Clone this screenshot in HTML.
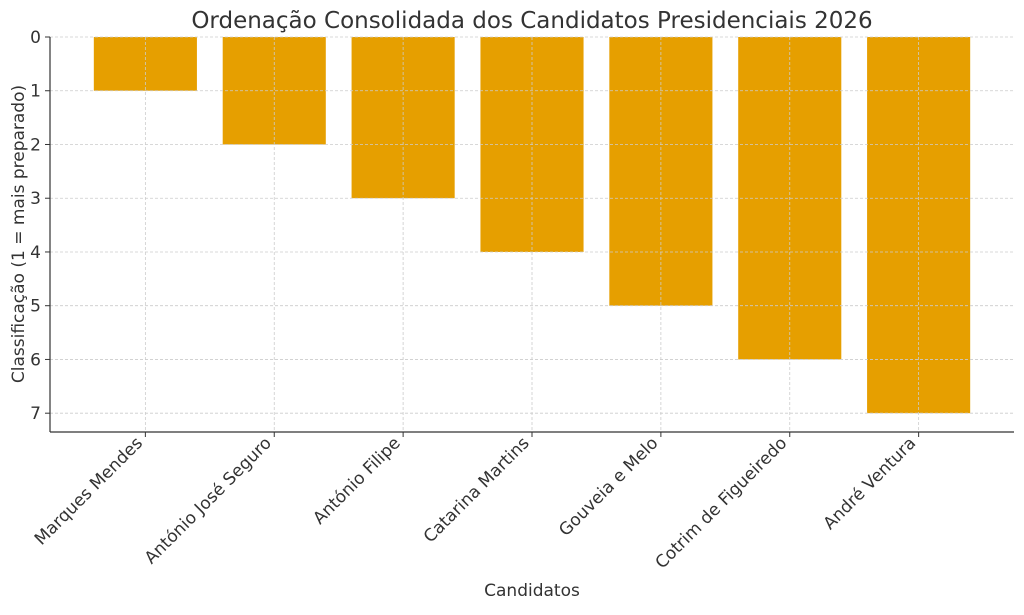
<!DOCTYPE html>
<html><head><meta charset="utf-8"><style>
html,body{margin:0;padding:0;background:#fff;}
svg text{font-family:"DejaVu Sans","Liberation Sans",sans-serif;fill:#333;}
</style></head><body>
<svg id="chart" width="1024" height="610" xmlns="http://www.w3.org/2000/svg">
<text x="532" y="28" font-size="23" text-anchor="middle">Ordenação Consolidada dos Candidatos Presidenciais 2026</text>
<text x="532" y="596" font-size="17" text-anchor="middle">Candidatos</text>
<text transform="translate(24,234) rotate(-90)" font-size="17" text-anchor="middle">Classificação (1 = mais preparado)</text>
<g id="bars"></g><g id="grid"></g><g id="axes"></g>
</svg>
<script>
const categories=["Marques Mendes","António José Seguro","António Filipe","Catarina Martins","Gouveia e Melo","Cotrim de Figueiredo","André Ventura"];
const ranks=[1,2,3,4,5,6,7];
const yTicks=[0,1,2,3,4,5,6,7];
const NS="http://www.w3.org/2000/svg";
const L=50,R=1014,T=37,B=432;
const n=categories.length;
const pad=0.05*(n-1+0.8);
const xmin=-0.4-pad, xmax=(n-1)+0.4+pad;
function x(v){return L+(v-xmin)/(xmax-xmin)*(R-L);}
const ymax=Math.max(...ranks)*1.05;
function y(v){return T+v/ymax*(B-T);}
function mk(t,a,p){const e=document.createElementNS(NS,t);for(const k in a)e.setAttribute(k,a[k]);p.appendChild(e);return e;}
const bars=document.getElementById('bars'),grid=document.getElementById('grid'),axes=document.getElementById('axes');
ranks.forEach((v,i)=>{
 const r=mk('rect',{x:x(i-0.4),y:y(0),width:x(i+0.4)-x(i-0.4),height:y(v)-y(0),fill:'#E69F00'},bars);
 
 
 const g=mk('line',{x1:x(i),x2:x(i),y1:T,y2:B,stroke:'#ccc','stroke-dasharray':'3,2','stroke-width':0.8},grid);
 
 
 mk('line',{x1:x(i),x2:x(i),y1:B,y2:B+5,stroke:'#333'},axes);
 const t=mk('text',{transform:`translate(${x(i)-2},${B+12}) rotate(-45)`,'font-size':17,'text-anchor':'end'},axes);
 t.textContent=categories[i];
 
 
});
yTicks.forEach(v=>{
 const g=mk('line',{x1:L,x2:R,y1:y(v),y2:y(v),stroke:'#ccc','stroke-dasharray':'3,2','stroke-width':0.8},grid);
 
 
 mk('line',{x1:L-5,x2:L,y1:y(v),y2:y(v),stroke:'#333'},axes);
 const t=mk('text',{x:L-9,y:y(v)+6,'font-size':17,'text-anchor':'end'},axes);
 t.textContent=v;
 
 
});
const ya=mk('line',{x1:L,x2:L,y1:T,y2:B,stroke:'#333','stroke-width':1.2},axes);


const xa=mk('line',{x1:L,x2:R,y1:B,y2:B,stroke:'#333','stroke-width':1.2},axes);


</script>
</body></html>
